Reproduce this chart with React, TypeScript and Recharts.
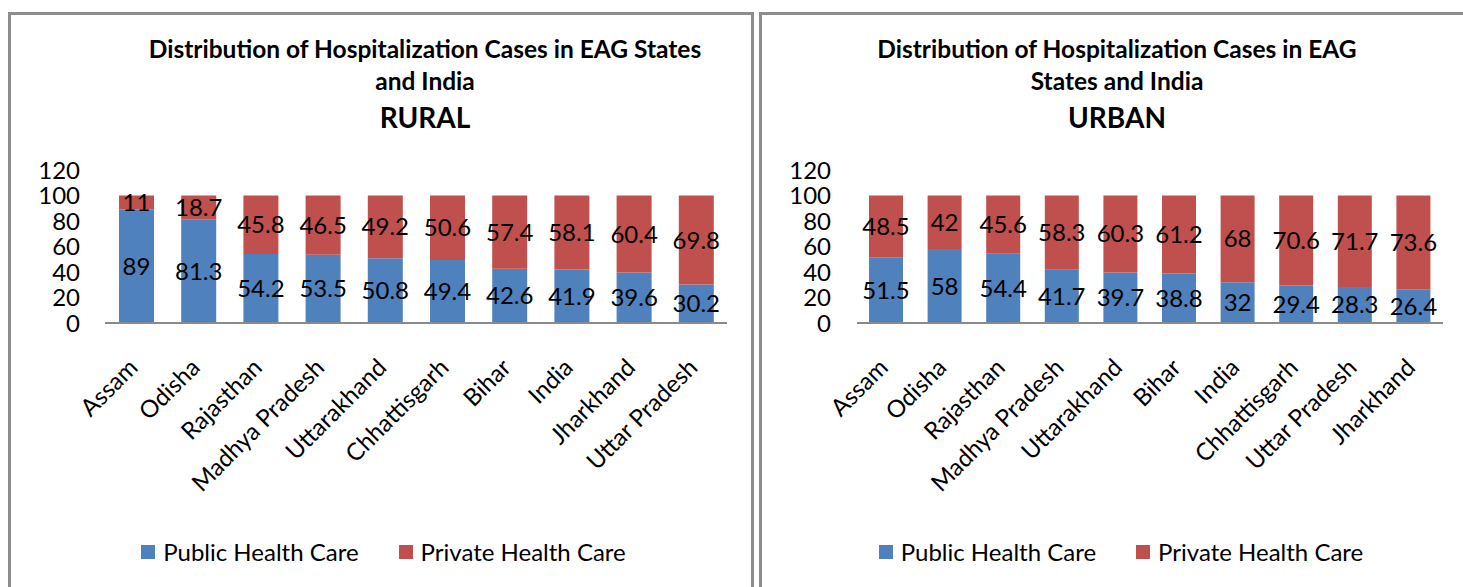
import { Bar, BarChart, LabelList, Legend, XAxis, YAxis } from "recharts";

const BLUE = "#4F81BD";
const RED = "#C0504D";
const FONT = "Lato, 'Liberation Sans', sans-serif";

const ruralStates = [
  "Assam",
  "Odisha",
  "Rajasthan",
  "Madhya Pradesh",
  "Uttarakhand",
  "Chhattisgarh",
  "Bihar",
  "India",
  "Jharkhand",
  "Uttar Pradesh",
];
const ruralPublic = [89, 81.3, 54.2, 53.5, 50.8, 49.4, 42.6, 41.9, 39.6, 30.2];
const ruralPrivate = [11, 18.7, 45.8, 46.5, 49.2, 50.6, 57.4, 58.1, 60.4, 69.8];

const urbanStates = [
  "Assam",
  "Odisha",
  "Rajasthan",
  "Madhya Pradesh",
  "Uttarakhand",
  "Bihar",
  "India",
  "Chhattisgarh",
  "Uttar Pradesh",
  "Jharkhand",
];
const urbanPublic = [51.5, 58, 54.4, 41.7, 39.7, 38.8, 32, 29.4, 28.3, 26.4];
const urbanPrivate = [48.5, 42, 45.6, 58.3, 60.3, 61.2, 68, 70.6, 71.7, 73.6];

const yTicks = [0, 20, 40, 60, 80, 100, 120];
const seriesOrder = ["Public Health Care", "Private Health Care"];

function LegendBox({ payload }: any) {
  const items = [...(payload || [])].sort(
    (a: any, b: any) => seriesOrder.indexOf(a.value) - seriesOrder.indexOf(b.value)
  );
  return (
    <div style={{ display: "flex", justifyContent: "center", fontFamily: FONT, fontSize: 24 }}>
      {items.map((p: any, i: number) => (
        <div key={i} style={{ display: "flex", alignItems: "center", marginLeft: i ? 40 : 0 }}>
          <span style={{ width: 14, height: 14, background: p.color, display: "inline-block", marginRight: 8 }} />
          <span>{p.value}</span>
        </div>
      ))}
    </div>
  );
}

// rotated category label, top-right corner sits just left of the band centre
function StateTick({ x, y, payload }: any) {
  return (
    <g transform={`translate(${x - 9},${y})`}>
      <text textAnchor="end" transform="rotate(-45)" dy="0.71em" fill="#000" fontSize={24} fontFamily={FONT}>
        {payload.value}
      </text>
    </g>
  );
}

type PanelProps = {
  states: string[];
  pub: number[];
  priv: number[];
  width: number;
  plotLeft: number;
  plotRight: number;
  labelGap: number;
  barSize: number;
  legendShift: number;
};

function Panel({ states, pub, priv, width, plotLeft, plotRight, labelGap, barSize, legendShift }: PanelProps) {
  const data = states.map((s, i) => ({ state: s, pub: pub[i], priv: priv[i] }));
  const yw = 60;
  return (
    <BarChart
      width={width}
      height={587}
      data={data}
      margin={{ top: 170, right: width - plotRight, bottom: 114, left: plotLeft - yw }}
      style={{ fontFamily: FONT }}
    >
      <XAxis
        dataKey="state"
        interval={0}
        height={150}
        axisLine={{ stroke: "#8a8a8a", strokeWidth: 2 }}
        tickLine={false}
        tickSize={0}
        tickMargin={34}
        tick={<StateTick />}
      />
      <YAxis
        width={yw}
        domain={[0, 120]}
        ticks={yTicks}
        interval={0}
        axisLine={false}
        tickLine={false}
        tickSize={0}
        tickMargin={labelGap}
        tick={{ fill: "#000", fontSize: 24, fontFamily: FONT }}
      />
      <Legend
        layout="horizontal"
        verticalAlign="middle"
        align="center"
        wrapperStyle={{ top: 537, left: legendShift, width: width }}
        content={LegendBox}
      />
      <Bar dataKey="pub" name="Public Health Care" stackId="a" fill={BLUE} barSize={barSize} isAnimationActive={false}>
        <LabelList dataKey="pub" position="center" fill="#000" fontSize={24} fontFamily={FONT} />
      </Bar>
      <Bar dataKey="priv" name="Private Health Care" stackId="a" fill={RED} barSize={barSize} isAnimationActive={false}>
        <LabelList dataKey="priv" position="center" fill="#000" fontSize={24} fontFamily={FONT} />
      </Bar>
    </BarChart>
  );
}

function Title({ lines, sub, center }: { lines: string[]; sub: string; center: number }) {
  return (
    <div
      style={{
        position: "absolute",
        left: center - 350,
        width: 700,
        top: 33,
        textAlign: "center",
        fontFamily: FONT,
        fontWeight: 700,
        color: "#000",
      }}
    >
      {lines.map((l, i) => (
        <div key={i} style={{ fontSize: 24.5, lineHeight: "32px" }}>
          {l}
        </div>
      ))}
      <div style={{ fontSize: 28, lineHeight: "40px" }}>{sub}</div>
    </div>
  );
}

export default function App() {
  return (
    <div style={{ position: "relative", width: 1463, height: 587, overflow: "hidden", background: "#fff" }}>
      <style>{`body{margin:0}`}</style>
      <div
        style={{
          position: "absolute",
          left: 8,
          top: 12,
          width: 746,
          height: 600,
          border: "3px solid #8c8c8c",
          boxSizing: "border-box",
        }}
      />
      <div
        style={{
          position: "absolute",
          left: 759,
          top: 12,
          width: 720,
          height: 600,
          border: "3px solid #8c8c8c",
          boxSizing: "border-box",
        }}
      />
      <div style={{ position: "absolute", left: 0, top: 0 }}>
        <Panel
          states={ruralStates}
          pub={ruralPublic}
          priv={ruralPrivate}
          width={755}
          plotLeft={105}
          plotRight={727}
          labelGap={25}
          barSize={35}
          legendShift={6}
        />
      </div>
      <div style={{ position: "absolute", left: 755, top: 0 }}>
        <Panel
          states={urbanStates}
          pub={urbanPublic}
          priv={urbanPrivate}
          width={708}
          plotLeft={102}
          plotRight={688}
          labelGap={26}
          barSize={34}
          legendShift={12}
        />
      </div>
      <Title lines={["Distribution of Hospitalization Cases in EAG States", "and India"]} sub="RURAL" center={425} />
      <Title lines={["Distribution of Hospitalization Cases in EAG", "States and India"]} sub="URBAN" center={1117} />
    </div>
  );
}
